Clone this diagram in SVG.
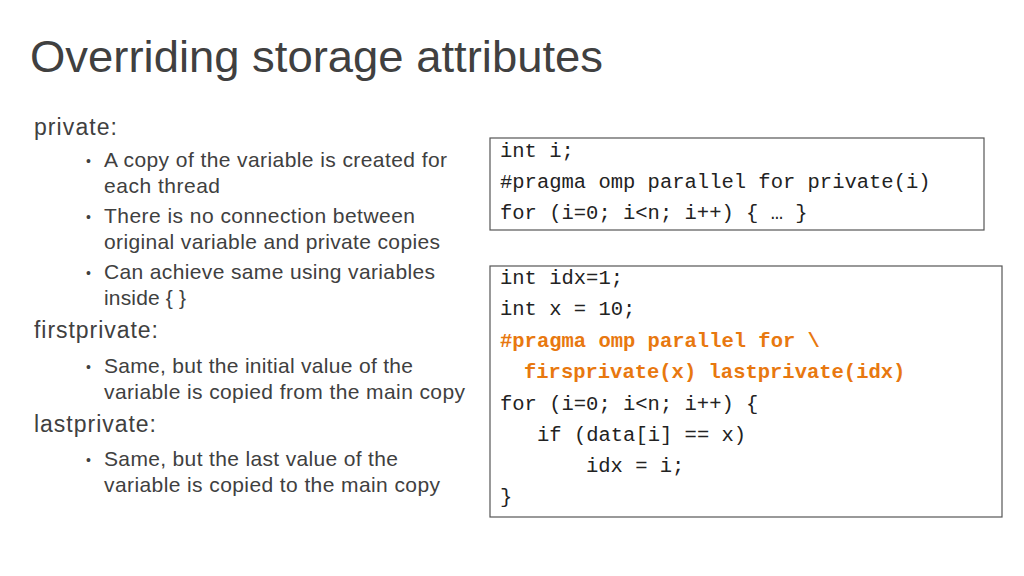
<svg xmlns="http://www.w3.org/2000/svg" width="1024" height="576" viewBox="0 0 1024 576">
<style>
.t{font-family:"Liberation Sans",Arial,sans-serif;fill:#404040}
.b{font-size:21px}
.c{font-family:"Liberation Mono","DejaVu Sans Mono",monospace;font-size:20.5px;fill:#222}
.o{fill:#e8780f;font-weight:bold}
.box{fill:#fff;stroke:#555;stroke-width:1.2}
</style>
<rect width="1024" height="576" fill="#fff"/>
<text class="t" x="30" y="72" font-size="44" textLength="573" lengthAdjust="spacingAndGlyphs">Overriding storage attributes</text>
<g id="bullets" class="t b">
<text x="34" y="135" font-size="23" textLength="83">private:</text>
<text x="86" y="166" font-size="14">•</text><text x="104" y="167" textLength="343">A copy of the variable is created for</text>
<text x="104" y="193" textLength="116">each thread</text>
<text x="86" y="222" font-size="14">•</text><text x="104" y="223" textLength="311">There is no connection between</text>
<text x="104" y="249" textLength="336">original variable and private copies</text>
<text x="86" y="278" font-size="14">•</text><text x="104" y="279" textLength="331">Can achieve same using variables</text>
<text x="104" y="305" textLength="82">inside { }</text>
<text x="34" y="338" font-size="23" textLength="124">firstprivate:</text>
<text x="86" y="372" font-size="14">•</text><text x="104" y="373" textLength="309">Same, but the initial value of the</text>
<text x="104" y="399" textLength="361">variable is copied from the main copy</text>
<text x="34" y="432" font-size="23" textLength="122">lastprivate:</text>
<text x="86" y="465" font-size="14">•</text><text x="104" y="466" textLength="294">Same, but the last value of the</text>
<text x="104" y="492" textLength="336">variable is copied to the main copy</text>
</g>
<g id="code1">
<rect class="box" x="490" y="138" width="494" height="92"/>
<text class="c" x="500" y="157">int i;</text>
<text class="c" x="500" y="188">#pragma omp parallel for private(i)</text>
<text class="c" x="500" y="219">for (i=0; i&lt;n; i++) { … }</text>
</g>
<g id="code2">
<rect class="box" x="490" y="266" width="512" height="251"/>
<text class="c" x="500" y="284">int idx=1;</text>
<text class="c" x="500" y="315">int x = 10;</text>
<text class="c o" x="500" y="347">#pragma omp parallel for \</text>
<text class="c o" x="524" y="378">firsprivate(x) lastprivate(idx)</text>
<text class="c" x="500" y="410">for (i=0; i&lt;n; i++) {</text>
<text class="c" x="537" y="441">if (data[i] == x)</text>
<text class="c" x="586" y="472">idx = i;</text>
<text class="c" x="500" y="503">}</text>
</g>
</svg>
